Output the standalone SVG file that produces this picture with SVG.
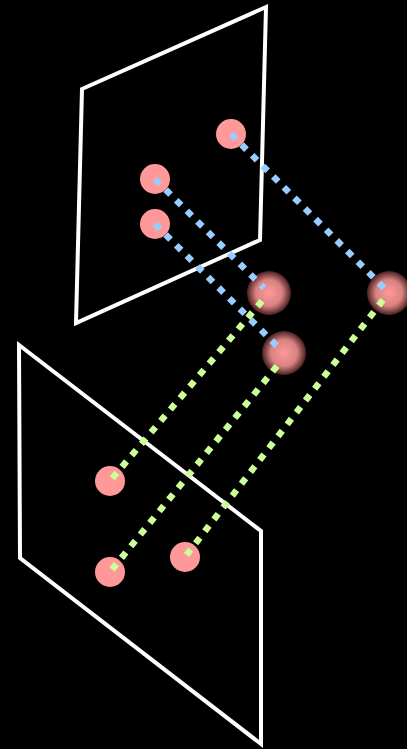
<svg xmlns="http://www.w3.org/2000/svg" width="407" height="749" viewBox="0 0 407 749">
<defs>
<radialGradient id="sph" cx="50%" cy="50%" r="50%">
<stop offset="0%" stop-color="#ff9999"/>
<stop offset="60%" stop-color="#d98282"/>
<stop offset="100%" stop-color="#4a2020"/>
</radialGradient>
<style>
.plane{fill:none;stroke:#ffffff;stroke-width:4}
.pt{fill:#ff9999}
.sp{fill:url(#sph)}
.blue{stroke:#99ccff;stroke-width:6.5;stroke-dasharray:7 8;fill:none}
.green{stroke:#ccff99;stroke-width:6.5;stroke-dasharray:7 8;fill:none}
</style>
</defs>
<rect width="407" height="749" fill="#000000"/>
<g id="plane-top"><polygon class="plane" points="82,89 266,7 260,240 76,323"/></g>
<g id="plane-bottom"><polygon class="plane" points="19,345 261,531 261,744 20,558"/></g>
<g id="p1"><circle class="pt" cx="231" cy="134" r="15"/></g>
<g id="p2"><circle class="pt" cx="155" cy="179" r="15"/></g>
<g id="p3"><circle class="pt" cx="155" cy="224" r="15"/></g>
<g id="s1"><circle class="sp" cx="269" cy="293" r="22"/></g>
<g id="s2"><circle class="sp" cx="389" cy="293" r="22"/></g>
<g id="s3"><circle class="sp" cx="284" cy="353" r="22"/></g>
<g id="q1"><circle class="pt" cx="110" cy="481" r="15"/></g>
<g id="q2"><circle class="pt" cx="110" cy="572" r="15"/></g>
<g id="q3"><circle class="pt" cx="185" cy="557" r="15"/></g>
<g id="connectors">
<line class="blue" x1="231" y1="134" x2="384" y2="288"/>
<line class="blue" x1="155" y1="179" x2="264" y2="288"/>
<line class="blue" x1="155" y1="224" x2="279" y2="348"/>
<line class="green" x1="262" y1="301" x2="110" y2="481"/>
<line class="green" x1="277" y1="366" x2="110" y2="572"/>
<line class="green" x1="383" y1="300" x2="185" y2="557"/>
</g>
</svg>
